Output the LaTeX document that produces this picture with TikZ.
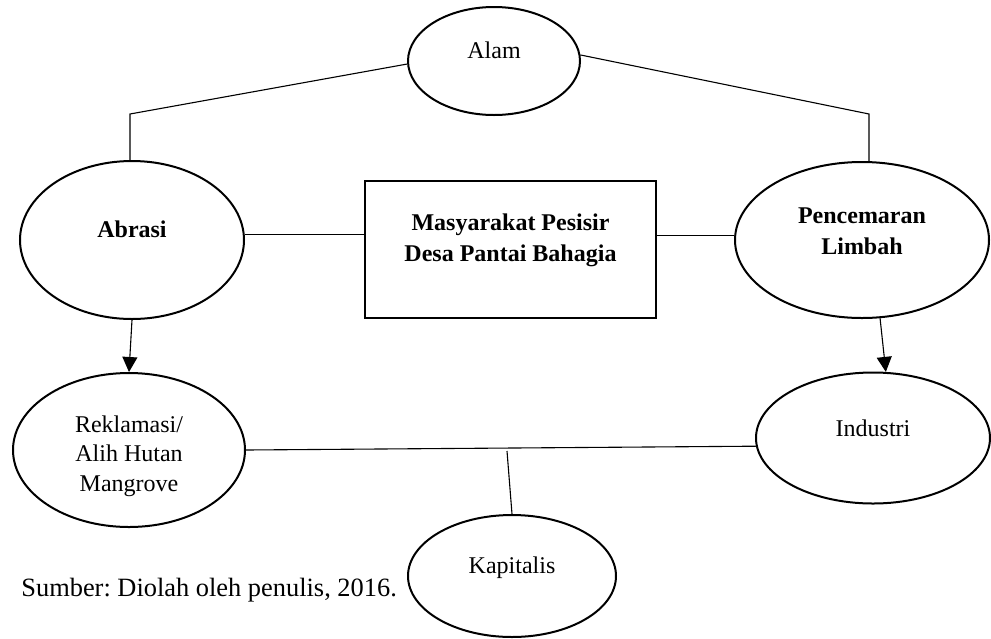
\documentclass[tikz,border=0pt]{standalone}
\usepackage{fontspec}
\setmainfont{Liberation Serif}
\usetikzlibrary{shapes.geometric,arrows.meta,calc}
\frenchspacing
\tikzset{
  ell/.style={draw, ellipse, line width=1pt, inner sep=0pt},
  boxnode/.style={draw, rectangle, line width=1.1pt, inner sep=0pt},
  txt/.style={font=\fontsize{12}{14.7}\selectfont, align=center},
  btxt/.style={font=\fontsize{12}{15.3}\selectfont\bfseries, align=center},
  srctxt/.style={font=\fontsize{13.2}{15}\selectfont},
  conn/.style={line width=0.55pt},
  arr/.style={line width=0.55pt, -{Triangle[length=7.5pt,width=7.5pt]}}
}
\begin{document}
\begin{tikzpicture}[x=0.5pt,y=-0.5pt]
\useasboundingbox (0,0) rectangle (991,638);
\node[ell, minimum width=86pt, minimum height=54pt,
  label={[txt,yshift=5.5pt]center:Alam}] (alam) at (494,61) {};
\node[ell, minimum width=112pt, minimum height=79pt,
  label={[btxt,yshift=5.5pt]center:Abrasi}] (abrasi) at (132,240) {};
\node[ell, minimum width=127pt, minimum height=78pt,
  label={[btxt,yshift=4.5pt]center:Pencemaran\\Limbah}] (pen) at (862,240) {};
\node[boxnode, minimum width=145.5pt, minimum height=68.5pt,
  label={[btxt,yshift=4.5pt]center:Masyarakat Pesisir\\Desa Pantai Bahagia}] (rect) at (510.5,249.5) {};
\node[ell, minimum width=116pt, minimum height=77pt,
  label={[txt,yshift=-3pt]center:Reklamasi/\\Alih Hutan\\Mangrove}] (rek) at (129,450) {};
\node[ell, minimum width=117pt, minimum height=65.5pt,
  label={[txt,yshift=5pt]center:Industri}] (ind) at (873,438) {};
\node[ell, minimum width=104pt, minimum height=61pt,
  label={[txt,yshift=4pt]center:Kapitalis}] (kap) at (512,576) {};
\node[srctxt, anchor=base west, inner sep=0pt] (src) at (21,596) {Sumber: Diolah oleh penulis, 2016.};
% connectors
\coordinate (bl) at (130,114);
\coordinate (br) at (869,114);
\coordinate (kj) at (507,451);
\draw[conn] (alam.182) -- (bl) -- (bl |- abrasi.north);
\draw[conn] (alam.4) -- (br) -- (br |- pen.north);
\draw[conn] (abrasi.3) -- (abrasi.3 -| rect.west);
\draw[conn] (pen.178) -- (pen.178 -| rect.east);
\draw[arr] (abrasi.south) -- (rek.north);
\draw[arr] (pen.-77) -- (ind.79);
\draw[conn] (rek.east) -- (ind.184);
\draw[conn] (kj) -- (kap.north);
\end{tikzpicture}
\end{document}
